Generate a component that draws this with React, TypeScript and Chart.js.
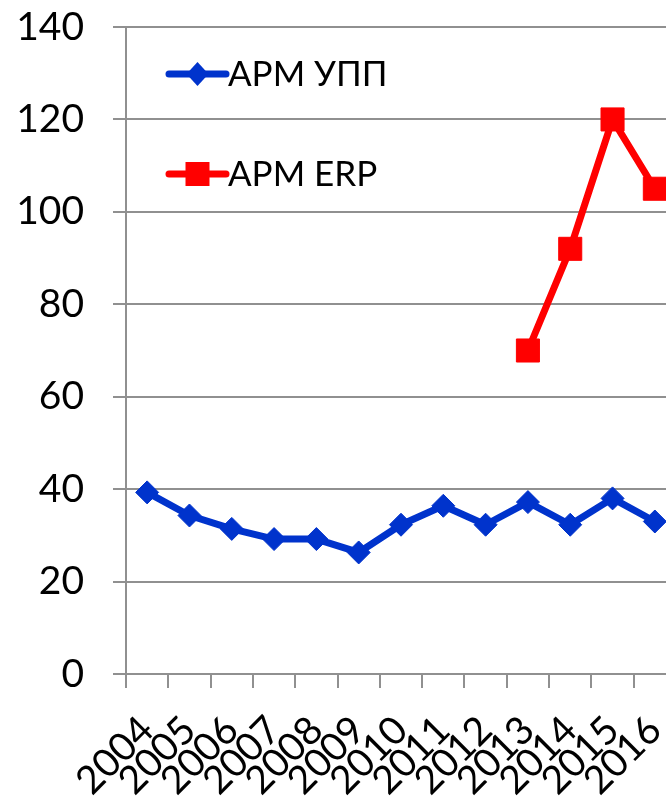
import React, { useEffect, useRef } from 'react';
import { Chart, registerables } from 'chart.js';

Chart.register(...registerables);

const categories = ['2004', '2005', '2006', '2007', '2008', '2009', '2010', '2011', '2012', '2013', '2014', '2015', '2016'];
const uppValues = [39.3, 34.3, 31.4, 29.2, 29.2, 26.3, 32.3, 36.4, 32.3, 37.2, 32.3, 38, 33];
const erpValues = [null, null, null, null, null, null, null, null, null, 70, 92, 120, 105];
const seriesLabels = ['АРМ УПП', 'АРМ ERP'];
const seriesColors = ['#0033CC', '#FF0000'];
const yMin = 0;
const yMax = 140;
const yStep = 20;

const FONT = 'Lato';
const GRID = '#909090';
const CANVAS_W = 676;
const CANVAS_H = 798;

const insideLegend = {
  id: 'insideLegend',
  afterDatasetsDraw(chart: any) {
    const ctx = chart.ctx;
    const { left, top } = chart.chartArea;
    chart.data.datasets.forEach((ds: any, i: number) => {
      const y = top + 47 + i * 100;
      const x0 = left + 43;
      const x1 = left + 100;
      const cx = (x0 + x1) / 2;
      ctx.save();
      ctx.strokeStyle = ds.borderColor;
      ctx.fillStyle = ds.borderColor;
      ctx.lineWidth = 7;
      ctx.lineCap = 'round';
      ctx.beginPath();
      ctx.moveTo(x0, y);
      ctx.lineTo(x1, y);
      ctx.stroke();
      ctx.beginPath();
      if (ds.pointStyle === 'rectRot') {
        const r = 12;
        ctx.moveTo(cx, y - r);
        ctx.lineTo(cx + r - 1, y);
        ctx.lineTo(cx, y + r);
        ctx.lineTo(cx - r + 1, y);
        ctx.closePath();
      } else {
        ctx.rect(cx - 12, y - 12, 24, 24);
      }
      ctx.fill();
      ctx.fillStyle = '#000000';
      ctx.font = `35px ${FONT}`;
      ctx.textBaseline = 'middle';
      ctx.textAlign = 'left';
      ctx.fillText(ds.label, x1 + 2, y + 1);
      ctx.restore();
    });
  },
};

export default function App() {
  const canvasRef = useRef<HTMLCanvasElement | null>(null);

  useEffect(() => {
    const canvas = canvasRef.current;
    if (!canvas) return;
    const chart = new Chart(canvas, {
      type: 'line',
      data: {
        labels: categories,
        datasets: [
          {
            label: seriesLabels[0],
            data: uppValues,
            borderColor: seriesColors[0],
            backgroundColor: seriesColors[0],
            pointBackgroundColor: seriesColors[0],
            pointBorderColor: seriesColors[0],
            borderWidth: 7,
            borderCapStyle: 'round',
            borderJoinStyle: 'round',
            pointStyle: 'rectRot',
            pointRadius: 11.5,
            pointBorderWidth: 1,
            tension: 0,
          },
          {
            label: seriesLabels[1],
            data: erpValues,
            borderColor: seriesColors[1],
            backgroundColor: seriesColors[1],
            pointBackgroundColor: seriesColors[1],
            pointBorderColor: seriesColors[1],
            borderWidth: 7,
            borderCapStyle: 'round',
            borderJoinStyle: 'round',
            pointStyle: 'rect',
            pointRadius: 16.3,
            pointBorderWidth: 1,
            tension: 0,
          },
        ] as any,
      },
      options: {
        animation: false,
        responsive: false,
        devicePixelRatio: 1,
        layout: { autoPadding: false, padding: { top: 27, left: 0, right: 0, bottom: 0 } },
        plugins: {
          legend: { display: false },
          tooltip: { enabled: false },
        },
        scales: {
          x: {
            type: 'category',
            offset: true,
            grid: {
              offset: true,
              drawOnChartArea: false,
              drawTicks: true,
              tickLength: 14,
              color: GRID,
              lineWidth: 2,
            },
            border: { display: true, color: GRID, width: 2 },
            ticks: {
              autoSkip: false,
              minRotation: 45,
              maxRotation: 45,
              padding: 19,
              color: '#000000',
              font: { family: FONT, size: 39 },
            },
            afterFit: (scale: any) => {
              scale.height = CANVAS_H - 674;
              scale.paddingLeft = 0;
              scale.paddingRight = 0;
            },
          },
          y: {
            min: yMin,
            max: yMax,
            ticks: {
              stepSize: yStep,
              padding: 29,
              color: '#000000',
              font: { family: FONT, size: 39 },
            },
            grid: {
              color: GRID,
              lineWidth: 2,
              tickLength: 13,
              drawTicks: true,
            },
            border: { display: true, color: GRID, width: 2 },
            afterFit: (scale: any) => {
              scale.width = 126;
              scale.paddingTop = 0;
              scale.paddingBottom = 0;
            },
          },
        },
      } as any,
      plugins: [insideLegend],
    });
    return () => chart.destroy();
  }, []);

  return (
    <div style={{ position: 'absolute', left: 0, top: 0, width: 666, height: 798, overflow: 'hidden', background: '#fff' }}>
      <canvas ref={canvasRef} width={CANVAS_W} height={CANVAS_H} style={{ display: 'block', width: CANVAS_W, height: CANVAS_H }} />
    </div>
  );
}
